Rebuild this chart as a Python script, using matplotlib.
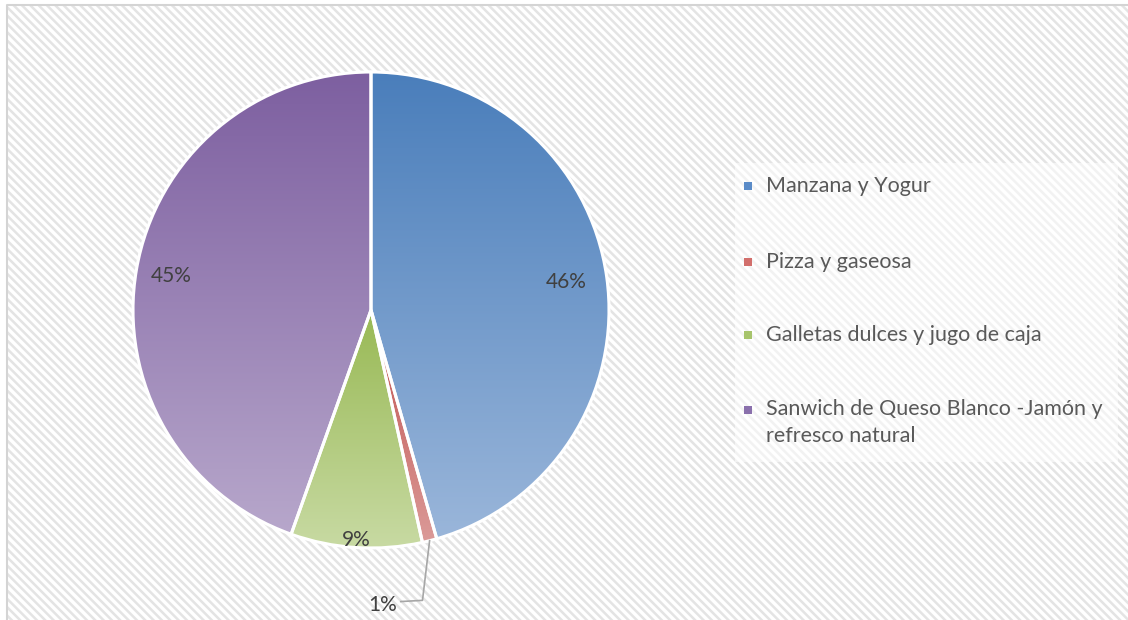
import numpy as np
import matplotlib.pyplot as plt
from matplotlib.patches import Rectangle
from matplotlib.colors import to_rgb

categories = ["Manzana y Yogur", "Pizza y gaseosa",
              "Galletas dulces y jugo de caja",
              "Sanwich de Queso Blanco -Jamón y\nrefresco natural"]
percents = [46, 1, 9, 45]

top_colors = ["#4A7EBB", "#C0504D", "#98B954", "#7D5FA0"]
bottom_colors = ["#9AB6DA", "#DB9A98", "#C8DAA3", "#B7A7CB"]
legend_colors = ["#5A8BC8", "#D26F6C", "#A7C46C", "#8A70AC"]
# how far from the centre each inside label sits (None = outside with leader)
label_dist = [0.83, None, 0.97, 0.85]

W, H = 1128, 620
plt.rcParams['font.family'] = ['Lato', 'DejaVu Sans']
plt.rcParams['hatch.linewidth'] = 1.8

fig = plt.figure(figsize=(W / 100, H / 100), dpi=100)


def px(x, y, w=0, h=0):
    # pixel box (top-left origin) -> figure fraction
    return [x / W, 1 - (y + h) / H, w / W, h / H]


# striped background with a thin frame
bg = fig.add_axes([0, 0, 1, 1])
bg.set_xlim(0, W)
bg.set_ylim(H, 0)
bg.axis('off')
bg.add_patch(Rectangle((7, 5), W, H, facecolor='white', edgecolor='#E4E4E4',
                       hatch='\\\\\\\\', lw=0))
bg.plot([7, 7, W], [H, 5, 5], color='#D4D4D4', lw=1.5)
# lighter panel behind the legend
bg.add_patch(Rectangle((735, 163), 383, 299, facecolor='white',
                       edgecolor='none', alpha=0.55))

# pie
cx, cy, r = 371, 310, 238
ax = fig.add_axes(px(cx - r, cy - r, 2 * r, 2 * r))
wedges, _ = ax.pie(percents, startangle=90, counterclock=False,
                   wedgeprops=dict(edgecolor='white', linewidth=2.2))
ax.set_aspect('equal')
ax.axis('off')

for w, c0, c1 in zip(wedges, top_colors, bottom_colors):
    v = w.get_path().vertices
    x0, x1 = v[:, 0].min(), v[:, 0].max()
    y0, y1 = v[:, 1].min(), v[:, 1].max()
    t = np.linspace(0, 1, 256)[:, None]
    grad = (1 - t) * np.array(to_rgb(c0)) + t * np.array(to_rgb(c1))
    im = ax.imshow(grad[:, None, :], extent=[x0, x1, y0, y1],
                   aspect='auto', zorder=1, interpolation='bilinear')
    im.set_clip_path(w)
    w.set_facecolor('none')
    w.set_zorder(2)
ax.set_xlim(-1, 1)
ax.set_ylim(-1, 1)

for w, p, d in zip(wedges, percents, label_dist):
    mid = np.deg2rad((w.theta1 + w.theta2) / 2)
    if d is not None:
        ax.text(d * np.cos(mid), d * np.sin(mid), f"{p}%", ha='center',
                va='center', fontsize=15, color='#404040', zorder=3)
    else:
        ex, ey = np.cos(mid), np.sin(mid)
        ax.plot([ex, ex - 0.03, 0.125], [ey, -1.22, -1.225],
                color='#A6A6A6', lw=1.2, clip_on=False, zorder=3)
        ax.text(0.11, -1.24, f"{p}%", ha='right', va='center',
                fontsize=15, color='#404040', clip_on=False, zorder=3)

# legend
leg_y = [186, 262, 335, 410]
for name, col, y in zip(categories, legend_colors, leg_y):
    bg.add_patch(Rectangle((744, y - 4), 8, 8, facecolor=col,
                           edgecolor='none'))
    multi = '\n' in name
    bg.text(766, y - 11 if multi else y, name, ha='left',
            va='top' if multi else 'center',
            fontsize=15.5, color='#595959', linespacing=1.45)

fig.savefig('out.png', dpi=100)
